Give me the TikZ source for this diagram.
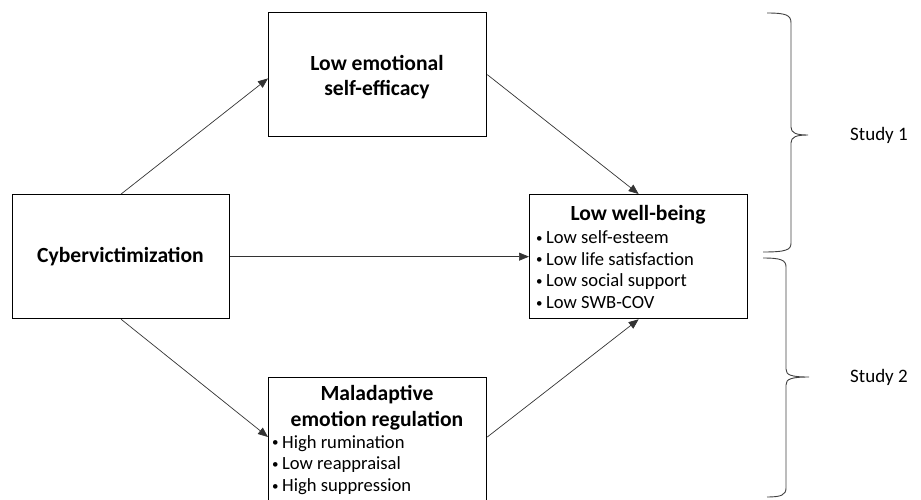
\documentclass[tikz,border=0pt]{standalone}
\usepackage{fontspec}
\setmainfont{Carlito}
\usetikzlibrary{arrows.meta,calc}
\newcommand\bul{\raisebox{.15ex}{\fontsize{13}{13}\selectfont\textbullet}\hspace{3.5pt}}
\begin{document}
\begin{tikzpicture}[x=1pt,y=-1pt,
  box/.style={draw=black,line width=1.3pt,inner sep=0pt,anchor=north west},
  conn/.style={draw=black!80,line width=0.7pt,-{Triangle[length=10pt,width=8pt]}},
  ttl/.style={font=\fontsize{21.6}{25.5}\selectfont\bfseries,align=center,inner sep=0pt},
  itm/.style={font=\fontsize{18.6}{21.7}\selectfont,align=left,inner sep=0pt,anchor=west},
  brc/.style={draw=black!75,line width=0.9pt},
  stl/.style={font=\fontsize{19}{22}\selectfont,inner sep=0pt,anchor=west}]
\useasboundingbox (0,0) rectangle (921,499);
\clip (0,0) rectangle (921,499);
% boxes
\node[box,minimum width=218pt,minimum height=124pt] (b1) at (268,12) {};
\node[box,minimum width=217pt,minimum height=124pt] (cyb) at (12,194) {};
\node[box,minimum width=218pt,minimum height=124pt] (wb) at (529,194) {};
\node[box,minimum width=218pt,minimum height=135pt] (mal) at (268,377) {};
% texts
\node[ttl] (t1) at (377,77) {Low emotional\\self-efficacy};
\node[ttl] (tc) at (120.5,257) {Cybervictimization};
\node[ttl] (tw) at (638,215) {Low well-being};
\node[itm] (iw) at (536,269.5) {\bul Low self-esteem\\\bul Low life satisfaction\\\bul Low social support\\\bul Low SWB-COV};
\node[ttl] (tm) at (377,407.5) {Maladaptive\\emotion regulation};
\node[itm] (im) at (272,465) {\bul High rumination\\\bul Low reappraisal\\\bul High suppression};
% connectors
\draw[conn] (cyb.north) -- ($(b1.north west)!0.53!(b1.south west)$);
\draw[conn] (b1.east) -- (wb.north);
\draw[conn] (cyb.east) -- (wb.west);
\draw[conn] (cyb.south) -- ($(mal.north west)+(0,60)$);
\draw[conn] ($(mal.north east)+(0,60)$) -- (wb.south);
% braces
\draw[brc] (767,13) .. controls (786,13) and (791,15) .. (791,23) -- (791,127)
  .. controls (791,133) and (796,135) .. (808,135)
  .. controls (796,135) and (791,137) .. (791,143) -- (791,243)
  .. controls (791,250) and (786,252) .. (763,252);
\draw[brc] (763,258) .. controls (781,258) and (786,260) .. (786,267) -- (786,369)
  .. controls (786,375) and (791,377) .. (809,377)
  .. controls (791,377) and (786,379) .. (786,385) -- (786,488)
  .. controls (786,495) and (781,497) .. (767,497);
\node[stl] (s1) at (850,135) {Study 1};
\node[stl] (s2) at (850,377) {Study 2};
\end{tikzpicture}
\end{document}
